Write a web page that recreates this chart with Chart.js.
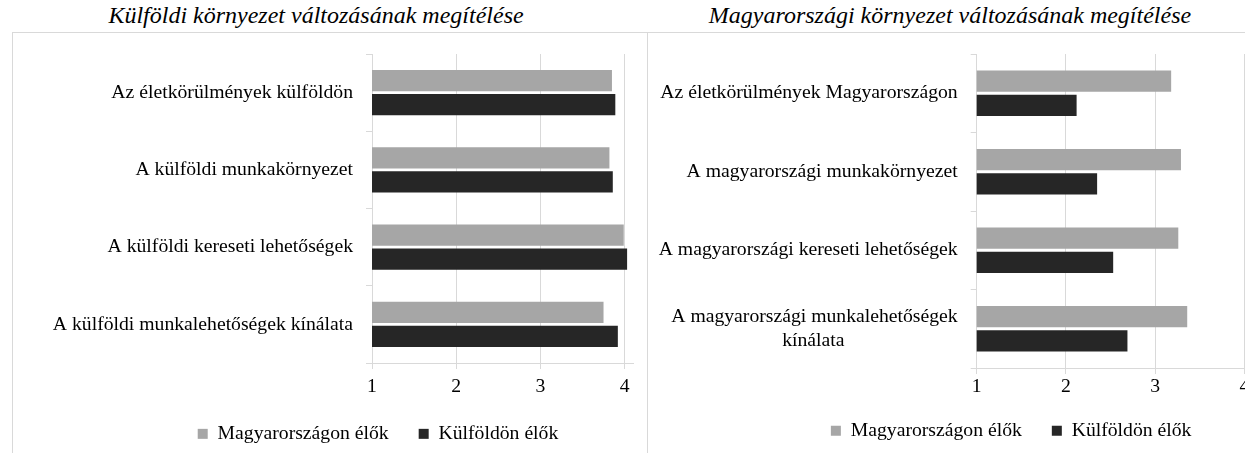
<!DOCTYPE html>
<html>
<head>
<meta charset="utf-8">
<script src="https://cdn.jsdelivr.net/npm/chart.js@4.4.1/dist/chart.umd.min.js"></script>
<style>
  html, body { margin: 0; padding: 0; width: 1245px; height: 453px; overflow: hidden; background: #fff; }
  .title { position: absolute; top: 0; width: 600px; text-align: center; color: #000;
           font: italic 24px "Liberation Serif", "Times New Roman", serif; line-height: 30px; white-space: nowrap; }
  .frame { position: absolute; top: 32px; height: 460px; border: 1px solid #d9d9d9; box-sizing: border-box; }
  canvas { position: absolute; }
</style>
</head>
<body>

<div class="title" style="left:16px">Külföldi környezet változásának megítélése</div>
<div class="title" style="left:650px">Magyarországi környezet változásának megítélése</div>
<div class="frame" style="left:12px; width:636px"></div>
<div class="frame" style="left:647px; width:700px"></div>
<canvas id="chartAbroad" width="633" height="447" style="left:13px; top:33px"></canvas>
<canvas id="chartHome" width="650" height="447" style="left:648px; top:33px"></canvas>

<script>
var seriesNames = ["Magyarországon élők", "Külföldön élők"];

var abroadLabels = [
  "Az életkörülmények külföldön",
  "A külföldi munkakörnyezet",
  "A külföldi kereseti lehetőségek",
  "A külföldi munkalehetőségek kínálata"
];
var abroadHome = [3.85, 3.82, 3.99, 3.75];
var abroadAbroad = [3.89, 3.86, 4.03, 3.92];

var homeLabels = [
  "Az életkörülmények Magyarországon",
  "A magyarországi munkakörnyezet",
  "A magyarországi kereseti lehetőségek",
  ["A magyarországi munkalehetőségek", "kínálata"]
];
var homeHome = [3.18, 3.29, 3.26, 3.36];
var homeAbroad = [2.12, 2.35, 2.53, 2.69];

var valueTicks = [1, 2, 3, 4];

var serif = '"Liberation Serif", "Times New Roman", serif';
var fontSize = 19.7;
Chart.defaults.font.family = serif;
Chart.defaults.font.size = fontSize;
Chart.defaults.color = '#000';

/* move the legend where excel put it */
var legendShift = {
  id: 'legendShift',
  afterLayout: function(chart, args, opts) {
    var lg = chart.legend;
    if (!lg) return;
    lg.left += opts.x; lg.right += opts.x;
    lg.top += opts.y; lg.bottom += opts.y;
  }
};

/* multi-line labels: centre the short lines under the long one */
function centerLines(lines) {
  if (!Array.isArray(lines)) return lines;
  var ctx = document.createElement('canvas').getContext('2d');
  ctx.font = fontSize + 'px ' + serif;
  var widths = lines.map(function(l) { return ctx.measureText(l).width; });
  var max = Math.max.apply(null, widths);
  var space = ctx.measureText(' ').width;
  return lines.map(function(l, i) {
    return l + ' '.repeat(Math.round((max - widths[i]) / 2 / space));
  });
}

function makeChart(id, labels, home, abroad, cfg) {
  return new Chart(document.getElementById(id), {
    type: 'bar',
    data: {
      labels: labels,
      datasets: [
        { label: seriesNames[0], data: home, backgroundColor: '#a6a6a6', borderWidth: 0 },
        { label: seriesNames[1], data: abroad, backgroundColor: '#262626', borderWidth: 0 }
      ]
    },
    options: {
      indexAxis: 'y',
      responsive: false,
      animation: false,
      categoryPercentage: 0.62,
      barPercentage: 0.88,
      layout: { padding: { left: 0, top: 21, right: cfg.padRight, bottom: cfg.padBottom } },
      scales: {
        x: {
          min: 1,
          max: cfg.max,
          afterBuildTicks: function(s) {
            s.ticks = valueTicks.map(function(v) { return { value: v }; });
          },
          afterFit: function(s) { s.height = 40; },
          grid: { color: '#d9d9d9', tickLength: 6 },
          border: { color: '#d9d9d9' },
          ticks: { padding: cfg.tickPad, font: { size: fontSize } }
        },
        y: {
          afterFit: function(s) {
            s.width = cfg.axisWidth;
            s.paddingTop = 0;
            s.paddingBottom = 0;
          },
          grid: { drawOnChartArea: false, color: '#d9d9d9', tickLength: 6 },
          border: { color: '#d9d9d9' },
          ticks: {
            padding: 13,
            autoSkip: false,
            callback: function(v) { return centerLines(this.getLabelForValue(v)); }
          }
        }
      },
      plugins: {
        tooltip: { enabled: false },
        legend: {
          position: 'bottom',
          maxHeight: 55,
          labels: { boxWidth: 10, boxHeight: 10, padding: 30, font: { size: fontSize } }
        },
        legendShift: cfg.shift
      }
    },
    plugins: [legendShift]
  });
}

makeChart('chartAbroad', abroadLabels, abroadHome, abroadAbroad, {
  max: 4.1, axisWidth: 359, padRight: 13, padBottom: 22, tickPad: 6, shift: { x: 55, y: -9 }
});
makeChart('chartHome', homeLabels, homeHome, homeAbroad, {
  max: 4, axisWidth: 328.7, padRight: 53.7, padBottom: 17, tickPad: 1, shift: { x: 65, y: -17 }
});
</script>
</body>
</html>
